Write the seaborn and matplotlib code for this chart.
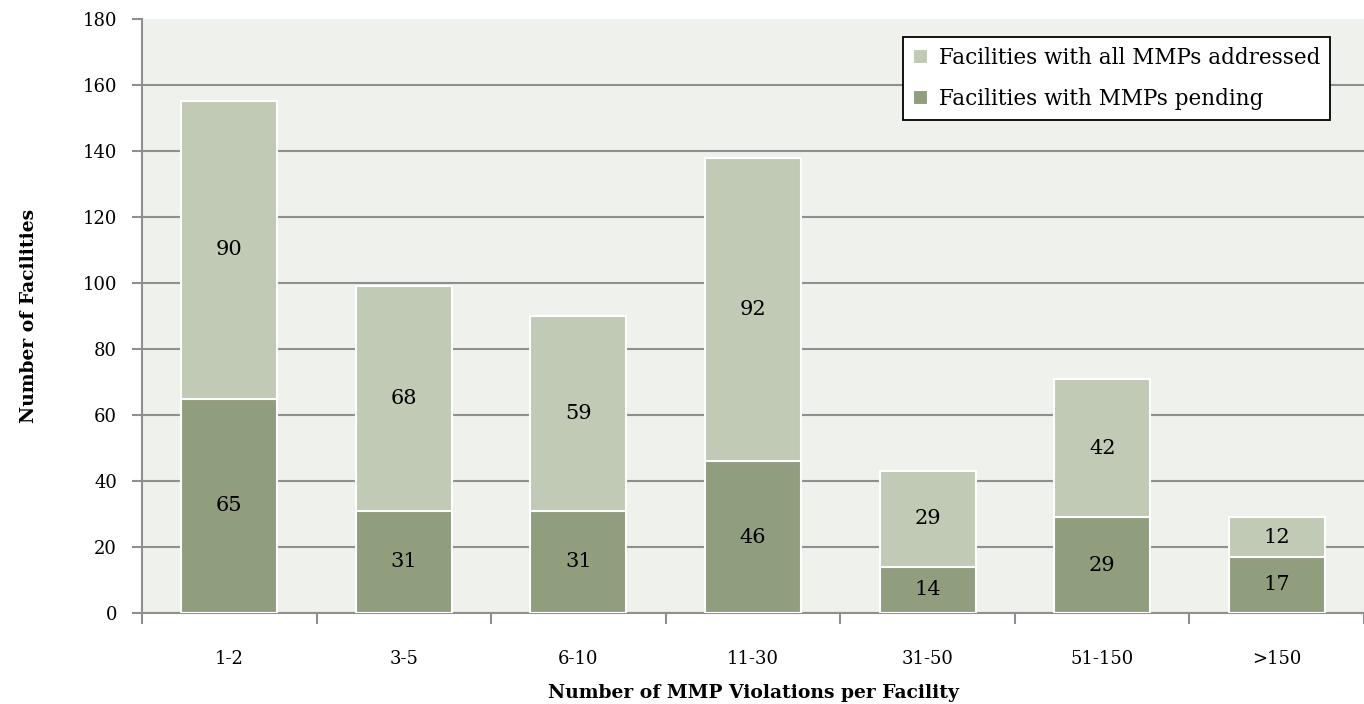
import matplotlib
matplotlib.use("Agg")
import matplotlib.pyplot as plt
import seaborn as sns
import pandas as pd
import numpy as np

categories = ["1-2", "3-5", "6-10", "11-30", "31-50", "51-150", ">150"]
pending = [65, 31, 31, 46, 14, 29, 17]
addressed = [90, 68, 59, 92, 29, 42, 12]

sns.set_theme(style="white")
plt.rcParams['font.family'] = ['DejaVu Serif', 'DejaVu Sans']
plt.rcParams['text.color'] = 'black'
plt.rcParams['axes.labelcolor'] = 'black'
plt.rcParams['xtick.labelcolor'] = 'black'
plt.rcParams['ytick.labelcolor'] = 'black'

light = "#c1cab5"
dark = "#919e7e"
grid_c = "#8f8f8f"

df = pd.DataFrame({"cat": categories, "pending": pending, "addressed": addressed})
df["total"] = df["pending"] + df["addressed"]

fig = plt.figure(figsize=(13.64, 7.04), dpi=100)
ax = fig.add_axes([142/1364, 1-613/704, 1-142/1364, (613-19)/704])
ax.set_facecolor("#eff1ec")

sns.barplot(data=df, x="cat", y="total", color=light, width=0.55, ax=ax,
            edgecolor="white", linewidth=1.5, saturation=1, label="Facilities with all MMPs addressed", zorder=3)
sns.barplot(data=df, x="cat", y="pending", color=dark, width=0.55, ax=ax,
            edgecolor="white", linewidth=1.5, saturation=1, label="Facilities with MMPs pending", zorder=4)

for i, (p, a) in enumerate(zip(pending, addressed)):
    ax.text(i, p/2, str(p), ha="center", va="center", fontsize=15, color="black", zorder=5)
    ax.text(i, p + a/2, str(a), ha="center", va="center", fontsize=15, color="black", zorder=5)

ax.set_ylim(0, 180)
ax.set_xlim(-0.5, 6.5)
ax.set_yticks(np.arange(0, 181, 20))
ax.yaxis.grid(True, color=grid_c, linewidth=1.5, zorder=0)
ax.set_axisbelow(True)
ax.yaxis.get_gridlines()[-1].set_visible(False)

for s in ["top", "right"]:
    ax.spines[s].set_visible(False)
for s in ["left", "bottom"]:
    ax.spines[s].set_color(grid_c)
    ax.spines[s].set_linewidth(1.5)

ax.tick_params(axis="y", which="major", length=7, width=1.5, color=grid_c, labelcolor="black", labelsize=13, pad=11, left=True)
ax.tick_params(axis="x", which="major", length=0, labelsize=13, labelcolor="black", pad=27)
ax.set_xticks(np.arange(-0.5, 7, 1), minor=True)
ax.tick_params(axis="x", which="minor", length=8, width=1.5, color=grid_c, bottom=True)

ax.set_xlabel("Number of MMP Violations per Facility", fontsize=13.5, fontweight="bold", color="black")
ax.xaxis.set_label_coords(0.5, (613-684)/594)
ax.set_ylabel("Number of Facilities", fontsize=13.5, fontweight="bold", color="black")
ax.yaxis.set_label_coords((38-142)/1222, 0.5)

handles, labels = ax.get_legend_handles_labels()
leg = ax.legend(handles, labels, loc="upper right", bbox_to_anchor=((1330-142)/1222, 1-(37-19)/594),
                fontsize=15.5, frameon=True, fancybox=False, edgecolor="black",
                handlelength=0.7, handleheight=0.7, handletextpad=0.5, borderpad=0.45,
                borderaxespad=0, labelspacing=0.9)
leg.get_frame().set_linewidth(1.3)
leg.get_frame().set_facecolor("white")
leg.get_frame().set_alpha(1)

fig.savefig("out.png", dpi=100)
